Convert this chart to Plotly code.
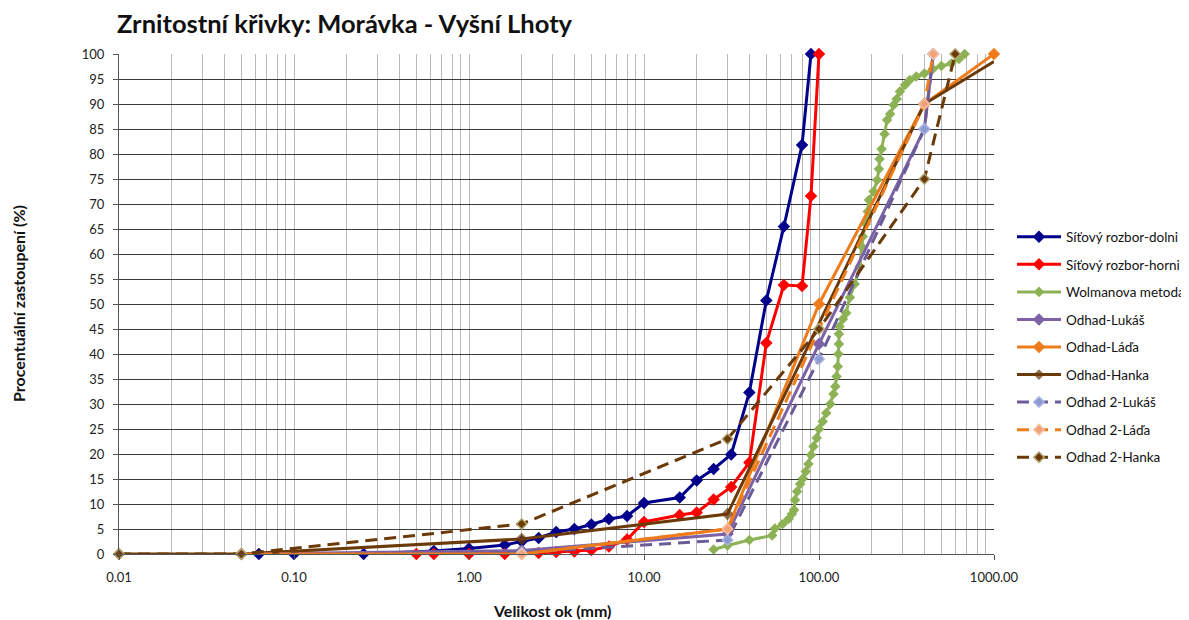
import plotly.graph_objects as go

# ---------------- data ----------------
dolni_x = [0.063, 0.1, 0.25, 0.63, 1.0, 1.6, 2.0, 2.5, 3.15, 4, 5, 6.3, 8, 10, 16, 20, 25, 31.5, 40, 50, 63, 80, 90]
dolni_y = [0, 0, 0, 0.6, 1.1, 1.8, 2.5, 3.2, 4.4, 5.0, 5.9, 7.0, 7.6, 10.2, 11.3, 14.7, 17.0, 19.9, 32.3, 50.7, 65.5, 81.8, 100]

horni_x = [0.5, 0.63, 1.0, 1.6, 2.0, 2.5, 3.15, 4, 5, 6.3, 8, 10, 16, 20, 25, 31.5, 40, 50, 63, 80, 90, 100]
horni_y = [0, 0, 0, 0, 0.1, 0.2, 0.4, 0.5, 0.8, 1.5, 2.9, 6.4, 7.8, 8.3, 10.9, 13.4, 18.3, 42.2, 53.8, 53.6, 71.6, 100]

wolman_x = [25, 30, 40, 54, 56, 62, 67, 70, 72, 73, 75, 78, 81, 84, 87, 90, 93, 97, 100, 105, 110, 116,
            121, 124, 126, 128, 129, 130, 130, 131, 137, 143, 150, 160, 171, 175, 178, 185, 190, 193,
            205, 215, 220, 222, 228, 237, 245, 255, 267, 278, 290, 310, 330, 360, 400, 447, 500, 570, 630, 680]
wolman_y = [0.9, 1.7, 2.8, 3.7, 5.1, 6.0, 7.0, 8.0, 8.8, 10.8, 12.5, 14.0, 15.1, 16.5, 18.0, 19.8, 21.5, 23.2, 25.0, 26.5, 28.2, 30.0,
            32.0, 33.5, 35.5, 37.5, 40.0, 42.0, 44.0, 45.5, 47.0, 48.2, 51.3, 54.0, 57.5, 61.5, 63.5, 66.0, 68.5, 70.8,
            72.5, 74.8, 77.0, 79.0, 81.0, 84.0, 86.8, 88.0, 89.8, 91.0, 92.5, 93.8, 94.8, 95.5, 96.1, 97.0, 97.6, 98.1, 99.0, 100]

lukas_x = [0.05, 2, 30, 100, 400, 450]
lukas_y = [0, 0.7, 4, 42, 85, 100]

lada_x = [0.05, 2, 30, 100, 400, 1000]
lada_y = [0, 0, 5, 50, 90, 100]

hanka_x = [0.01, 0.05, 2, 30, 400, 1000]
hanka_y = [0, 0, 3, 8, 90, 98.5]

lukas2_x = [0.05, 2, 30, 100, 400, 450]
lukas2_y = [0, 0.3, 2.8, 39, 85, 100]

lada2_x = [0.05, 2, 30, 100, 400, 450]
lada2_y = [0, 0, 5, 45, 90, 100]

hanka2_x = [0.01, 0.05, 2, 30, 100, 400, 600]
hanka2_y = [0, 0, 6, 23, 45, 75, 100]

x_tickvals = [0.01, 0.1, 1, 10, 100, 1000]
x_ticktext = ["0.01", "0.10", "1.00", "10.00", "100.00", "1000.00"]

FONT = "Lato"
OFF = 8  # page offset of the figure inside the browser window

series = [
    ("Síťový rozbor-dolni", dolni_x, dolni_y, "#00008B", "solid", "#00008B", "#00008B", 8),
    ("Síťový rozbor-horni", horni_x, horni_y, "#FF0000", "solid", "#FF0000", "#FF0000", 8),
    ("Wolmanova metoda", wolman_x, wolman_y, "#8DB255", "solid", "#8DB255", "#8DB255", 6.5),
    ("Odhad-Lukáš", lukas_x, lukas_y, "#7D62A6", "solid", "#7D62A6", "#7D62A6", 8),
    ("Odhad-Láďa", lada_x, lada_y, "#EF7C1C", "solid", "#EF7C1C", "#EF7C1C", 8),
    ("Odhad-Hanka", hanka_x, hanka_y, "#6B3A08", "solid", "#6B3A08", "#6B3A08", [8, 8, 8, 8, 8, 0]),
    ("Odhad 2-Lukáš", lukas2_x, lukas2_y, "#6B5C98", "12px,7px", "#8B9AD0", "#A9B4E0", 8),
    ("Odhad 2-Láďa", lada2_x, lada2_y, "#EF7C1C", "12px,7px", "#F2A07A", "#F7C0A0", 8),
    ("Odhad 2-Hanka", hanka2_x, hanka2_y, "#6B3A08", "12px,7px", "#6B3A08", "#B0A870", 8),
]

fig = go.Figure()
for i, (name, xs, ys, lc, dash, mfill, mline, msize) in enumerate(series):
    fig.add_trace(go.Scatter(
        x=xs, y=ys, name=name, mode="lines+markers",
        line=dict(color=lc, width=3, dash=dash),
        marker=dict(symbol="diamond", size=msize, color=mfill,
                    line=dict(color=mline, width=1.5)),
        legendgroup=f"g{i}", cliponaxis=False,
    ))

W, H = 1189, 620
L, T, R, B = 119 - OFF, 54 - OFF, W + OFF - 994, H + OFF - 554
PW, PH = 994 - 119, 554 - 54

fig.update_layout(
    width=W, height=H,
    paper_bgcolor="white", plot_bgcolor="white",
    margin=dict(l=L, r=R, t=T, b=B, autoexpand=False),
    font=dict(family=FONT, size=13, color="#222222"),
    title=dict(text="<b>Zrnitostní křivky: Morávka - Vyšní Lhoty</b>",
               x=(117 - OFF) / W, xanchor="left", xref="container",
               y=1 - (24 - OFF) / H, yanchor="middle", yref="container",
               font=dict(family=FONT, size=25.5, color="#111111")),
    legend=dict(x=(1012 - 119) / PW, xanchor="left", y=0.665, yanchor="top",
                font=dict(family=FONT, size=13.5, color="#111111"),
                tracegroupgap=7, bgcolor="rgba(0,0,0,0)", itemwidth=44),
    showlegend=True,
)

fig.update_xaxes(
    type="log", range=[-2, 3],
    tickvals=x_tickvals, ticktext=x_ticktext,
    ticks="outside", ticklen=5, tickcolor="#555555",
    showgrid=True, gridcolor="#B8B8B8", gridwidth=1,
    minor=dict(dtick="D1", showgrid=True, gridcolor="#B8B8B8", gridwidth=1, ticks=""),
    showline=True, linecolor="#555555", linewidth=1, mirror=False,
    zeroline=False, ticklabelstandoff=6,
    tickfont=dict(family=FONT, size=13, color="#222222"),
)
fig.update_yaxes(
    range=[0, 100], dtick=5, tick0=0,
    ticks="outside", ticklen=5, tickcolor="#555555",
    showgrid=True, gridcolor="#3A3A3A", gridwidth=1,
    showline=True, linecolor="#555555", linewidth=1,
    zeroline=False, ticklabelstandoff=6,
    tickfont=dict(family=FONT, size=13, color="#222222"),
)

fig.add_annotation(text="<b>Velikost ok (mm)</b>", xref="paper", yref="paper",
                   x=(552 - 119) / PW, y=-(610 - 554) / PH, xanchor="center", yanchor="middle",
                   showarrow=False, font=dict(family=FONT, size=16, color="#111111"))
fig.add_annotation(text="<b>Procentuální zastoupení (%)</b>", xref="paper", yref="paper",
                   x=-(119 - 18) / PW, y=(554 - 304) / PH, xanchor="center", yanchor="middle",
                   textangle=-90, showarrow=False, font=dict(family=FONT, size=16, color="#111111"))

fig.write_html("out.html")
